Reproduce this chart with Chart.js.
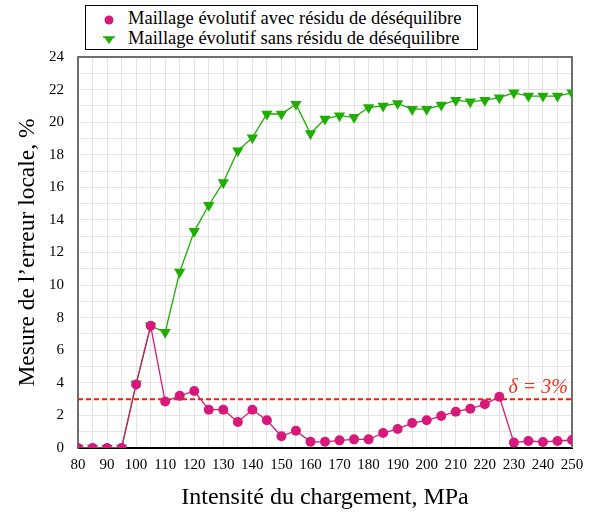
<!DOCTYPE html>
<html>
<head>
<meta charset="utf-8">
<script src="https://cdn.jsdelivr.net/npm/chart.js@4.4.1/dist/chart.umd.min.js"></script>
<style>
  body { margin: 0; background: #fff; }
  #wrap { position: relative; width: 593px; height: 516px; }
  #legend {
    position: absolute; left: 85px; top: 5px; width: 393px; height: 45px;
    border: 1px solid #000; background: #fff; box-sizing: border-box;
    font-family: 'Liberation Serif', 'Times New Roman', serif; font-size: 18.5px; color: #000;
  }
  #legend div { position: absolute; left: 17px; height: 20px; line-height: 20px; white-space: nowrap; }
  #legend svg { vertical-align: middle; margin-right: 13px; }
</style>
</head>
<body>
<div id="wrap">
  <canvas id="myChart" width="593" height="516"></canvas>
  <div id="legend">
    <div style="top:2px"><svg width="12" height="12"><circle cx="6" cy="6" r="4.5" fill="#d6197a"/></svg>Maillage évolutif avec résidu de déséquilibre</div>
    <div style="top:22px"><svg width="12" height="12"><path d="M1 3 L11 3 L6 10 Z" fill="#1ead00"/><line x1="0" y1="3" x2="12" y2="3" stroke="#1ead00" stroke-width="1.5"/></svg>Maillage évolutif sans résidu de déséquilibre</div>
  </div>
</div>
<script>
var charges = [80,85,90,95,100,105,110,115,120,125,130,135,140,145,150,155,160,165,170,175,180,185,190,195,200,205,210,215,220,225,230,235,240,245,250];
var avecResidu = [0,0,0,0,3.9,7.5,2.85,3.2,3.5,2.35,2.35,1.6,2.35,1.7,0.72,1.06,0.38,0.38,0.47,0.53,0.53,0.92,1.17,1.53,1.7,1.96,2.23,2.41,2.68,3.15,0.33,0.43,0.37,0.43,0.49];
var sansResidu = [0,0,0,0,3.95,7.5,7.1,10.8,13.3,14.9,16.3,18.25,19.05,20.5,20.5,21.1,19.3,20.2,20.4,20.3,20.9,21.0,21.15,20.8,20.8,21.05,21.35,21.25,21.35,21.5,21.8,21.6,21.6,21.6,21.8];
var seuil = 3;
var seuilLabel = "δ = 3%";

var magenta = '#d6197a';
var green = '#1ead00';
var serif = "'Liberation Serif', 'Times New Roman', serif";

function pts(ys) {
  return charges.map(function (x, i) { return { x: x, y: ys[i] }; });
}

var frame = {
  id: 'frame',
  beforeDatasetsDraw: function (chart) {
    var a = chart.chartArea, ctx = chart.ctx;
    ctx.save();
    ctx.strokeStyle = '#6e6e6e';
    ctx.lineWidth = 2;
    ctx.beginPath();
    ctx.moveTo(a.left, a.top);
    ctx.lineTo(a.right, a.top);
    ctx.lineTo(a.right, a.bottom);
    ctx.stroke();
    ctx.restore();
  },
  afterDatasetsDraw: function (chart) {
    var ctx = chart.ctx;
    var x = chart.scales.x.getPixelForValue(250);
    var y = chart.scales.y.getPixelForValue(seuil);
    ctx.save();
    ctx.fillStyle = '#f0301e';
    ctx.font = 'italic 20px ' + serif;
    ctx.textAlign = 'right';
    ctx.textBaseline = 'bottom';
    ctx.fillText(seuilLabel, x - 4, y - 1);
    ctx.restore();
  }
};

var ctx = document.getElementById('myChart').getContext('2d');
var myChart = new Chart(ctx, {
  type: 'line',
  data: {
    datasets: [{
      label: 'Maillage évolutif avec résidu de déséquilibre',
      data: pts(avecResidu),
      borderColor: magenta,
      backgroundColor: magenta,
      borderWidth: 1.3,
      pointRadius: 5,
      pointStyle: 'circle',
      pointBorderWidth: 0
    }, {
      label: 'Maillage évolutif sans résidu de déséquilibre',
      data: pts(sansResidu),
      borderColor: green,
      backgroundColor: green,
      borderWidth: 1.3,
      pointRadius: 6.5,
      pointStyle: 'triangle',
      rotation: 180,
      pointBorderWidth: 0
    }, {
      label: 'seuil',
      data: [{ x: 80, y: seuil }, { x: 250, y: seuil }],
      borderColor: '#f01e0a',
      borderWidth: 2,
      borderDash: [5, 3],
      pointRadius: 0
    }]
  },
  options: {
    responsive: false,
    animation: false,
    layout: { padding: { top: 57, right: 21, left: 0, bottom: 0 } },
    plugins: { legend: { display: false }, tooltip: { enabled: false } },
    scales: {
      x: {
        type: 'linear', min: 80, max: 250,
        afterFit: function (s) { s.height = 68; },
        ticks: {
          stepSize: 5, autoSkip: false, maxRotation: 0, padding: 8, color: '#000',
          font: { family: serif, size: 15 },
          callback: function (v) { return v % 10 === 0 ? v : ''; }
        },
        grid: { color: '#e4e4e4', drawTicks: false },
        border: { color: '#000', width: 2 },
        title: {
          display: true, text: 'Intensité du chargement, MPa', color: '#000',
          font: { family: serif, size: 24 }, padding: { top: 0, bottom: 4 }
        }
      },
      y: {
        min: 0, max: 24,
        afterFit: function (s) { s.width = 78; },
        ticks: {
          stepSize: 1, autoSkip: false, padding: 14, color: '#000',
          font: { family: serif, size: 15 },
          callback: function (v) { return v % 2 === 0 ? v : ''; }
        },
        grid: { color: '#e4e4e4', drawTicks: false },
        border: { color: '#6e6e6e', width: 2 },
        title: {
          display: true, text: 'Mesure de l’erreur locale, %', color: '#000',
          font: { family: serif, size: 23.5 }, padding: { top: 14, bottom: 0 }
        }
      }
    }
  },
  plugins: [frame]
});
</script>
</body>
</html>
